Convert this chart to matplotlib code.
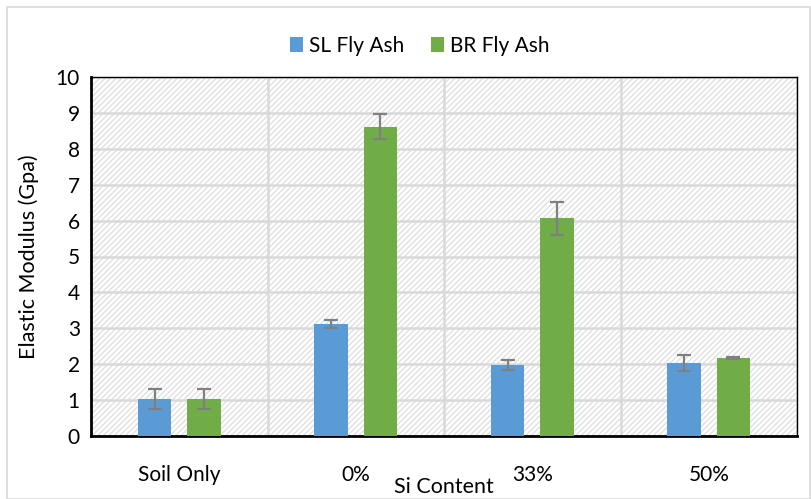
import matplotlib
matplotlib.use("Agg")
import matplotlib.pyplot as plt
import numpy as np
from matplotlib.patches import Rectangle

categories = ["Soil Only", "0%", "33%", "50%"]
sl_values = [1.03, 3.12, 1.98, 2.03]
sl_err = [0.27, 0.10, 0.15, 0.22]
br_values = [1.03, 8.61, 6.06, 2.17]
br_err = [0.27, 0.35, 0.47, 0.03]
series_names = ["SL Fly Ash", "BR Fly Ash"]
yticks = list(range(0, 11))

plt.rcParams['font.family'] = ['Lato', 'DejaVu Sans']
plt.rcParams['hatch.linewidth'] = 0.9
plt.rcParams['hatch.color'] = '#dedede'

fig = plt.figure(figsize=(8.11, 4.99), dpi=100)
# outer border
fig.patches.append(Rectangle((7/811, 0), 1 - 7/811 - 0.001, 1 - 7/499, transform=fig.transFigure,
                             fill=False, edgecolor='#d9d9d9', linewidth=1.2))

ax = fig.add_axes([91/811, 1 - 436/499, (797 - 91)/811, (436 - 77)/499])
x = np.arange(len(categories))
w = 0.19
off = 0.139

ax.set_xlim(-0.5, len(categories) - 0.5)
ax.set_ylim(0, 10)

# hatched background
bg = Rectangle((0, 0), 1, 1, transform=ax.transAxes, facecolor='white',
               edgecolor='#dedede', hatch='//////', linewidth=0, zorder=0)
ax.add_patch(bg)
ax.set_facecolor('white')

ax.set_yticks(yticks)
ax.set_xticks(x)
ax.set_xticks(np.arange(-0.5, len(categories), 1), minor=True)
ax.grid(axis='y', which='major', color='#d9d9d9', linewidth=1.8, zorder=1)
ax.grid(axis='x', which='minor', color='#d9d9d9', linewidth=1.8, zorder=1)
ax.grid(axis='x', which='major', visible=False)
ax.set_axisbelow(True)

err_kw = dict(ecolor='#808080', elinewidth=1.6, capsize=5, capthick=1.6)
ax.bar(x - off, sl_values, w, color='#5b9bd5', label=series_names[0], yerr=sl_err,
       error_kw=err_kw, zorder=3)
ax.bar(x + off, br_values, w, color='#70ad47', label=series_names[1], yerr=br_err,
       error_kw=err_kw, zorder=3)

ax.set_xticklabels(categories, fontsize=15)
ax.tick_params(axis='x', which='both', length=0, pad=21)
ax.tick_params(axis='y', length=0, labelsize=15, pad=8)
for s in ax.spines.values():
    s.set_color('black')
    s.set_linewidth(1.0)
ax.spines['left'].set_linewidth(2.0)
ax.spines['bottom'].set_linewidth(2.0)

ax.set_ylabel("Elastic Modulus (Gpa)", fontsize=15.5, labelpad=12)
fig.text(444/811, 1 - 487/499, "Si Content", ha='center', va='center', fontsize=15.5)

leg = fig.legend(loc='center', bbox_to_anchor=(420/811, 1 - 46/499), ncol=2, frameon=False,
                 fontsize=15, handlelength=0.6, handleheight=0.7, handletextpad=0.3,
                 columnspacing=1.3)

fig.savefig("out.png", dpi=100)
